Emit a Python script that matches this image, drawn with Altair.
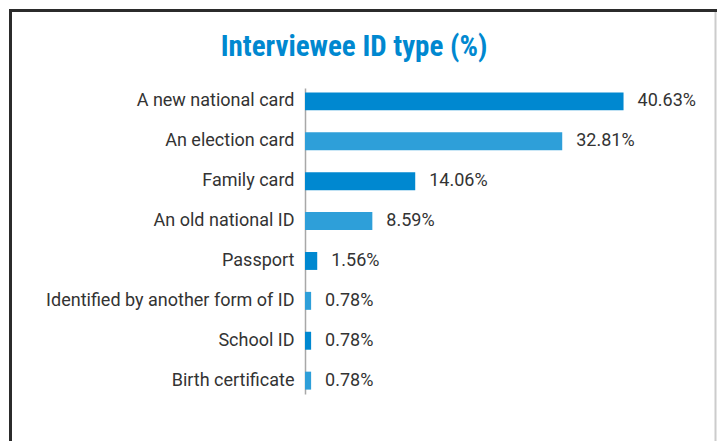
import altair as alt
import pandas as pd

categories = ["A new national card", "An election card", "Family card", "An old national ID",
              "Passport", "Identified by another form of ID", "School ID", "Birth certificate"]
values = [40.63, 32.81, 14.06, 8.59, 1.56, 0.78, 0.78, 0.78]
labels = ["40.63%", "32.81%", "14.06%", "8.59%", "1.56%", "0.78%", "0.78%", "0.78%"]
shade = ["dark", "light", "dark", "light", "dark", "light", "dark", "light"]
title_text = ["Interviewee ID type (%)"]

df = pd.DataFrame({"cat": categories, "val": values, "lab": labels, "shade": shade})

FONT = "Roboto"
TXT = "#333333"

y = alt.Y("cat:N", sort=None, title=None,
          scale=alt.Scale(paddingInner=0.55, paddingOuter=0.11),
          axis=alt.Axis(ticks=False, labelPadding=11, labelFontSize=18, labelFont=FONT,
                        labelColor=TXT, domainColor="#a8a8a8", domainWidth=1.5,
                        labelLimit=400))
x = alt.X("val:Q", title=None, scale=alt.Scale(domain=[0, 50]), axis=None)

bars = alt.Chart(df).mark_bar().encode(
    x=x, y=y,
    color=alt.Color("shade:N", legend=None,
                    scale=alt.Scale(domain=["dark", "light"], range=["#0088d0", "#2e9fd9"])),
)
text = alt.Chart(df).mark_text(align="left", baseline="middle", dx=14, fontSize=18,
                               font=FONT, color=TXT).encode(x=x, y=y, text="lab:N")

tdf = pd.DataFrame({"t": title_text})
title = alt.Chart(tdf).mark_text(align="center", baseline="middle", fontSize=29,
                                 font="Liberation Sans Narrow, Roboto Condensed, Roboto",
                                 fontWeight="bold", color="#0088d0").encode(
    x=alt.value(49), y=alt.value(-41), text="t:N")

frame = pd.DataFrame({"k": [0]})
top_line = alt.Chart(frame).mark_rule(color="#2b2b2b", strokeWidth=3).encode(
    x=alt.value(-296), x2=alt.value(412), y=alt.value(-77.5))
left_line = alt.Chart(frame).mark_rule(color="#2b2b2b", strokeWidth=3).encode(
    x=alt.value(-294.5), y=alt.value(-79), y2=alt.value(360))
right_line = alt.Chart(frame).mark_rule(color="#cccccc", strokeWidth=2).encode(
    x=alt.value(410.5), y=alt.value(-76), y2=alt.value(360))

chart = alt.layer(bars, text, title, top_line, left_line, right_line).properties(
    width=392, height=306,
    background="white",
    autosize=alt.AutoSizeParams(type="none"),
    padding={"left": 297, "top": 80, "right": 20, "bottom": 47},
).configure_view(strokeWidth=0, stroke="transparent")

chart.save("out.html", embed_options={"renderer": "svg", "actions": False})
